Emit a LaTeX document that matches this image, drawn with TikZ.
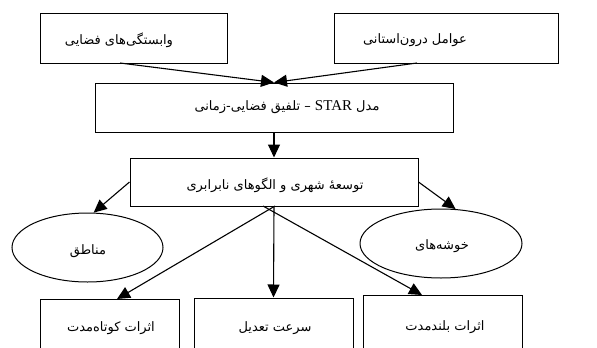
\documentclass[tikz,border=0pt]{standalone}
\usepackage{fontspec}
\usetikzlibrary{shapes.geometric,arrows.meta}
\TeXXeTstate=1
\newfontfamily\fafont[Script=Arabic]{DejaVu Sans}
\newfontfamily\latfont{Liberation Serif}
\newcommand{\rl}[1]{{\fafont\beginR #1\endR}}
\begin{document}
\begin{tikzpicture}[x=1pt,y=-1pt,
  box/.style={draw, line width=1pt, fill=white, inner sep=0pt, minimum width=#1},
  oval/.style={ellipse, draw, line width=1pt, inner sep=0pt},
  arr/.style={-{Triangle[length=13pt,width=12pt]}, line width=1.1pt},
  lbl/.style={inner sep=0pt, font=\fafont\fontsize{13}{15}\selectfont}]
\useasboundingbox (0,0) rectangle (597,348);
\clip (0,0) rectangle (597,348);
% top boxes
\node[box=187pt, minimum height=50pt] (tl) at (133.5,38) {};
\node[box=224pt, minimum height=50pt] (tr) at (446,38) {};
\node[lbl] (tlt) at (119,40) {\rl{وابستگی‌های فضایی}};
\node[lbl] (trt) at (415,40) {\rl{عوامل درون‌استانی}};
% STAR box
\node[box=358pt, minimum height=49pt] (star) at (274,107.5) {};
\node[lbl] (start) at (287,107) {\rl{مدل \beginL{\latfont\fontsize{15}{17}\selectfont STAR}\endL{} – تلفیق فضایی-زمانی}};
% middle box
\node[box=288pt, minimum height=48pt] (mid) at (274,182) {};
\node[lbl] (midt) at (275,185) {\rl{توسعهٔ شهری و الگوهای نابرابری}};
% ellipses
\node[oval, minimum width=151pt, minimum height=69pt] (el) at (87.5,247.5) {};
\node[lbl] (elt) at (88,251) {\rl{مناطق}};
\node[oval, minimum width=162pt, minimum height=69pt] (er) at (441,243.5) {};
\node[lbl] (ert) at (442,246) {\rl{خوشه‌های}};
% bottom boxes
\node[box=139pt, minimum height=56pt] (bl) at (109.5,327) {};
\node[box=159pt, minimum height=58pt] (bm) at (273.5,327) {};
\node[box=159pt, minimum height=64pt] (br) at (442.5,327) {};
\node[lbl] (blt) at (111,328) {\rl{اثرات کوتاه‌مدت}};
\node[lbl] (bmt) at (275,328) {\rl{سرعت تعدیل}};
\node[lbl] (brt) at (445,327) {\rl{اثرات بلندمدت}};
% connector end points
\coordinate (c1) at (120,63);
\coordinate (c2) at (417,63);
\coordinate (d1) at (275,206);
\coordinate (d2) at (263,206);
\coordinate (b1) at (117,299);
\coordinate (b3) at (422,295);
% connectors
\draw[arr] (c1) -- (star.north);
\draw[arr] (c2) -- (star.north);
\draw[arr] (star.south) -- (mid.north);
\draw[arr] (mid.west) -- (el.80);
\draw[arr] (mid.east) -- (er.67);
\draw[arr] (d1) -- (b1);
\draw[arr] (mid.south) -- (bm.north);
\draw[arr] (d2) -- (b3);
\end{tikzpicture}
\end{document}
